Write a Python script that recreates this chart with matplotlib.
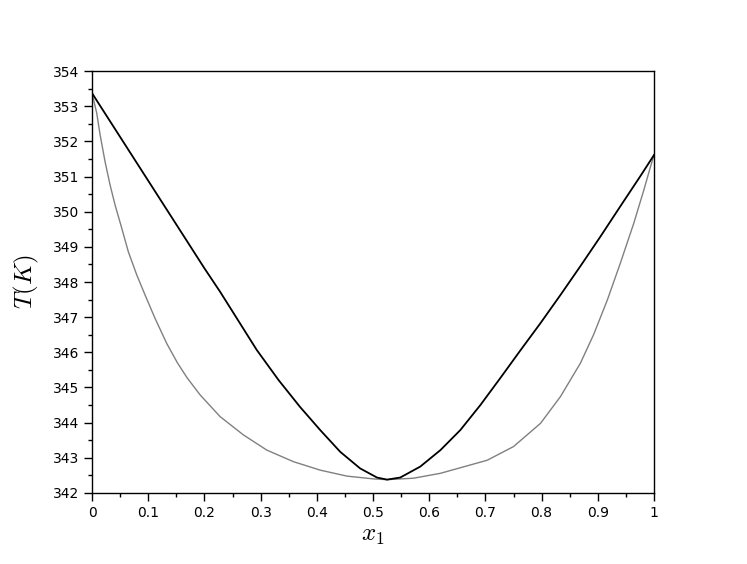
import matplotlib
matplotlib.use('Agg')
import matplotlib.pyplot as plt
from matplotlib.ticker import MultipleLocator, FormatStrFormatter, FuncFormatter

plt.rcParams['mathtext.fontset'] = 'cm'

# T-x-y diagram: dew curve (black) and bubble curve (gray)
dew_x = [0.0, 0.10, 0.20, 0.228, 0.293, 0.332, 0.370, 0.406, 0.4417, 0.477,
         0.507, 0.525, 0.5485, 0.584, 0.620, 0.6554, 0.691, 0.7266, 0.762, 0.798,
         0.8335, 0.869, 0.9046, 0.940, 0.9757, 1.0]
dew_t = [353.37, 350.88, 348.39, 347.72, 346.07, 345.21, 344.45, 343.79, 343.17, 342.70,
         342.44, 342.38, 342.44, 342.75, 343.22, 343.79, 344.50, 345.27, 346.05, 346.83,
         347.63, 348.45, 349.29, 350.15, 351.01, 351.61]

bub_x = [0.0, 0.0084, 0.0142, 0.0232, 0.0321, 0.041, 0.0529, 0.0646, 0.0796, 0.0944,
         0.112, 0.133, 0.152, 0.169, 0.1923, 0.228, 0.2695, 0.311, 0.3585, 0.406, 0.4536,
         0.501, 0.525, 0.572, 0.620, 0.667, 0.703, 0.750, 0.798, 0.8335, 0.869,
         0.893, 0.917, 0.940, 0.964, 0.982, 0.9938, 1.0]
bub_t = [353.37, 352.80, 352.20, 351.42, 350.76, 350.19, 349.53, 348.86, 348.20, 347.63,
         346.97, 346.25, 345.70, 345.28, 344.79, 344.17, 343.65, 343.22, 342.89, 342.65, 342.48,
         342.40, 342.38, 342.42, 342.56, 342.77, 342.93, 343.32, 343.98, 344.74, 345.69,
         346.52, 347.49, 348.53, 349.67, 350.62, 351.28, 351.61]

fig = plt.figure(figsize=(7.47, 5.64), dpi=100)
ax = fig.add_axes([0.1232, 0.1259, 0.7523, 0.7482])

ax.plot(bub_x, bub_t, color='#808080', lw=1.0)
ax.plot(dew_x, dew_t, color='black', lw=1.3)

ax.set_xlim(0, 1)
ax.set_ylim(342, 354)

ax.xaxis.set_major_locator(MultipleLocator(0.1))
ax.xaxis.set_minor_locator(MultipleLocator(0.05))
ax.yaxis.set_major_locator(MultipleLocator(1))
ax.yaxis.set_minor_locator(MultipleLocator(0.5))
ax.xaxis.set_major_formatter(FuncFormatter(lambda v, p: '%g' % round(v, 2)))
ax.yaxis.set_major_formatter(FormatStrFormatter('%d'))

ax.tick_params(which='major', direction='out', length=6, width=1, labelsize=10,
               top=False, right=False)
ax.tick_params(which='minor', direction='out', length=3, width=1,
               top=False, right=False)
for s in ax.spines.values():
    s.set_linewidth(1.0)

ax.set_xlabel('$x_1$', fontsize=18, labelpad=2)
ax.set_ylabel('$T(K)$', fontsize=18, labelpad=8)

fig.savefig('out.png', dpi=100)
